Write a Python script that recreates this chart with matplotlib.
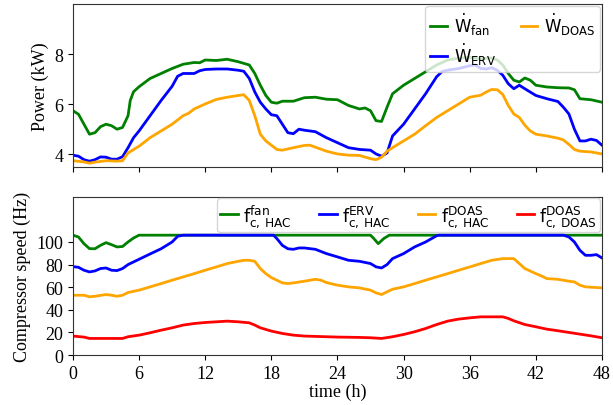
import matplotlib.pyplot as plt
import numpy as np

# ---- top panel: power (kW) ----
t_fan = [0, 0.5, 1, 1.5, 2, 2.5, 3, 3.5, 4, 4.5, 5, 5.2, 5.5, 6, 7, 8, 9, 10, 11, 11.5,
         12, 13, 14, 15, 16, 16.5, 17, 17.5, 18, 18.5, 19, 20, 21, 22, 23, 24, 25, 26,
         26.5, 27, 27.5, 28, 28.5, 29, 30, 31, 32, 33, 34, 35, 36, 37, 37.5, 38, 38.5,
         39, 39.5, 40, 40.5, 41, 41.5, 42, 43, 44, 45, 45.5, 46, 47, 48]
w_fan = [5.74, 5.6, 5.2, 4.8, 4.86, 5.1, 5.2, 5.14, 5.0, 5.07, 5.54, 6.15, 6.5, 6.7, 7.03,
         7.23, 7.43, 7.6, 7.67, 7.66, 7.77, 7.75, 7.8, 7.7, 7.57, 7.23, 6.76, 6.35, 6.08,
         6.04, 6.12, 6.12, 6.26, 6.28, 6.2, 6.18, 5.95, 5.81, 5.85, 5.74, 5.34, 5.31, 5.88,
         6.42, 6.76, 7.03, 7.3, 7.57, 7.77, 7.84, 7.88, 7.8, 7.84, 7.85, 7.77, 7.57, 7.23,
         6.96, 6.89, 7.05, 6.96, 6.76, 6.69, 6.66, 6.65, 6.58, 6.22, 6.18, 6.08]

t_erv = [0, 0.5, 1, 1.5, 2, 2.5, 3, 3.5, 4, 4.5, 5, 5.5, 6, 7, 8, 9, 9.5, 10, 11, 11.5,
         12, 13, 14, 15, 15.5, 16, 16.5, 17, 17.5, 18, 18.5, 19, 19.5, 20, 20.5, 21, 22,
         23, 24, 25, 26, 27, 27.5, 28, 28.5, 29, 30, 31, 32, 33, 33.5, 34, 35, 36, 36.5,
         37, 37.5, 38, 38.5, 39, 39.5, 40, 40.5, 41, 42, 43, 44, 44.5, 45, 45.5, 46, 46.5,
         47, 47.5, 48]
w_erv = [3.96, 3.92, 3.78, 3.72, 3.78, 3.89, 3.88, 3.8, 3.8, 3.9, 4.26, 4.66, 4.93, 5.54,
         6.15, 6.72, 7.12, 7.23, 7.23, 7.34, 7.39, 7.41, 7.41, 7.36, 7.32, 7.03, 6.49, 6.08,
         5.81, 5.58, 5.54, 5.2, 4.86, 4.82, 5.0, 4.96, 4.9, 4.66, 4.46, 4.26, 4.19, 4.16,
         4.01, 3.92, 4.05, 4.73, 5.2, 5.81, 6.42, 7.1, 7.31, 7.36, 7.43, 7.54, 7.57, 7.43,
         7.41, 7.46, 7.36, 7.16, 6.82, 6.62, 6.76, 6.62, 6.35, 6.22, 6.11, 5.88, 5.61, 5.0,
         4.53, 4.53, 4.6, 4.55, 4.36]

t_doas = [0, 1, 1.5, 2, 3, 4, 4.5, 5, 6, 7, 8, 9, 10, 10.5, 11, 12, 13, 14, 15, 15.5, 16,
          16.5, 17, 17.5, 18, 18.5, 19, 20, 21, 21.5, 22, 23, 24, 25, 26, 27, 27.5, 28,
          28.5, 29, 30, 31, 32, 33, 34, 35, 36, 37, 37.5, 38, 38.5, 39, 39.5, 40, 40.5, 41,
          41.5, 42, 43, 44, 44.5, 45, 45.5, 46, 47, 48]
w_doas = [3.74, 3.69, 3.64, 3.68, 3.74, 3.72, 3.74, 4.05, 4.32, 4.66, 4.93, 5.2, 5.54, 5.64,
          5.81, 6.01, 6.19, 6.28, 6.35, 6.38, 6.15, 5.54, 4.8, 4.53, 4.36, 4.19, 4.16, 4.26,
          4.35, 4.36, 4.28, 4.12, 4.01, 3.96, 3.95, 3.82, 3.78, 3.88, 4.12, 4.26, 4.53, 4.8,
          5.14, 5.47, 5.74, 6.01, 6.28, 6.36, 6.49, 6.59, 6.58, 6.39, 5.95, 5.61, 5.47, 5.16,
          4.93, 4.8, 4.73, 4.64, 4.57, 4.39, 4.19, 4.12, 4.09, 4.01]

# ---- bottom panel: compressor speed (Hz) ----
t_f_fan = [0, 0.5, 1, 1.5, 2, 2.5, 3, 3.5, 4, 4.5, 5, 5.5, 6, 27, 27.3, 27.7, 28.2, 28.7, 48]
f_fan = [106, 104.4, 98.5, 94.1, 94, 97, 99.4, 97.6, 95.6, 96, 100, 103.5, 106, 106, 103,
         98.5, 103, 106, 106]

t_f_erv = [0, 0.5, 1, 1.5, 2, 2.5, 3, 3.5, 4, 4.5, 5, 6, 7, 8, 9, 9.5, 10, 18.2, 18.5, 19,
           19.5, 20, 20.5, 21, 22, 23, 24, 25, 26, 27, 27.5, 28, 28.5, 29, 30, 31, 32, 33,
           33.2, 44.5, 45, 45.5, 46, 46.5, 47, 47.5, 48]
f_erv = [78.2, 77.6, 75, 73.5, 74.4, 76.5, 77, 75, 74.7, 76.5, 80, 84.7, 89.4, 94, 100, 105,
         106, 106, 103, 97, 94, 93.5, 94.7, 94.7, 93.5, 89.7, 86.8, 83.8, 82.9, 80.9, 78,
         77, 80, 85.3, 89.7, 95.6, 100, 105.5, 106, 106, 104.4, 100, 92.6, 88.2, 88.2, 88.8,
         85.9]

t_f_doas = [0, 1, 1.5, 2, 3, 3.5, 4, 4.5, 5, 6, 7, 8, 9, 10, 11, 12, 13, 14, 15, 15.5, 16,
            16.5, 17, 17.5, 18, 18.5, 19, 19.5, 20, 21, 22, 22.5, 23, 24, 25, 26, 27, 27.5,
            28, 28.5, 29, 30, 31, 32, 33, 34, 35, 36, 37, 38, 39, 40, 40.5, 41, 42, 42.5,
            43, 44, 45, 45.5, 46, 46.5, 47, 48]
f_doas = [52.9, 52.9, 51.5, 52, 53.5, 52.9, 52, 52.9, 55.3, 57.4, 60.3, 63.2, 66.2, 69.1,
          72, 75, 77.9, 80.9, 82.9, 83.8, 83.8, 82.9, 76.5, 72, 68.5, 66.2, 63.8, 63.2, 63.8,
          65.3, 67, 66.2, 64.1, 61.8, 60.3, 59.4, 57.4, 55, 53.5, 55.9, 58.2, 60.3, 63.2,
          66.2, 69.1, 72, 75, 77.9, 80.9, 83.8, 85.3, 85.3, 80.9, 76.5, 72, 70, 67.6, 67,
          65.3, 64.7, 61.8, 60.3, 60, 59.4]

t_f_dd = [0, 1, 1.5, 4.5, 5, 6, 7, 8, 9, 10, 11, 12, 13, 14, 15, 16, 16.5, 17, 18, 19, 20,
          21, 22, 24, 26, 27, 28, 29, 30, 31, 32, 33, 34, 35, 36, 37, 38, 39, 39.5, 40, 41,
          42, 43, 44, 45, 46, 47, 48]
f_dd = [16.8, 15.9, 14.7, 14.7, 16.2, 17.6, 19.7, 22, 24.1, 26.5, 27.9, 28.8, 29.4, 30,
        29.4, 28.5, 26.5, 24.1, 21.2, 19.1, 17.6, 16.8, 16.5, 15.9, 15.6, 15.3, 14.7, 16.2,
        18.2, 20.6, 23.5, 27, 30, 31.8, 32.9, 33.8, 33.8, 33.8, 32.4, 30.3, 27, 25, 22.9,
        21.5, 20, 18.5, 17, 15.3]

xticks = [0, 6, 12, 18, 24, 30, 36, 42, 48]

plt.rcParams['font.family'] = ['Liberation Serif', 'DejaVu Serif']
plt.rcParams['mathtext.fontset'] = 'dejavusans'

fig = plt.figure(figsize=(6.13, 4.06), dpi=100)
ax1 = fig.add_axes([0.119, 0.587, 0.863, 0.400])
ax2 = fig.add_axes([0.119, 0.123, 0.863, 0.390])

lw = 2
ax1.plot(t_fan, w_fan, color='green', lw=lw, label=r'$\dot{\mathrm{W}}_{\mathrm{fan}}$')
ax1.plot(t_erv, w_erv, color='blue', lw=lw, label=r'$\dot{\mathrm{W}}_{\mathrm{ERV}}$')
ax1.plot(t_doas, w_doas, color='orange', lw=lw, label=r'$\dot{\mathrm{W}}_{\mathrm{DOAS}}$')
ax1.set_xlim(0, 48)
ax1.set_ylim(3.5, 10)
ax1.set_yticks([4, 6, 8])
ax1.set_xticks(xticks)
ax1.tick_params(labelbottom=False, labelsize=13)
ax1.set_ylabel('Power (kW)', fontsize=13)
leg1 = ax1.legend(loc='upper right', ncol=2, prop={'family': 'DejaVu Sans', 'size': 12},
                  handlelength=1.0, handletextpad=0.4, columnspacing=1.5, borderpad=0.3,
                  labelspacing=0.2, borderaxespad=0.1)

ax2.plot(t_f_fan, f_fan, color='green', lw=lw, label=r'$\mathrm{f}_{\mathrm{c,\,HAC}}^{\mathrm{fan}}$')
ax2.plot(t_f_erv, f_erv, color='blue', lw=lw, label=r'$\mathrm{f}_{\mathrm{c,\,HAC}}^{\mathrm{ERV}}$')
ax2.plot(t_f_doas, f_doas, color='orange', lw=lw, label=r'$\mathrm{f}_{\mathrm{c,\,HAC}}^{\mathrm{DOAS}}$')
ax2.plot(t_f_dd, f_dd, color='red', lw=lw, label=r'$\mathrm{f}_{\mathrm{c,\,DOAS}}^{\mathrm{DOAS}}$')
ax2.set_xlim(0, 48)
ax2.set_ylim(0, 140)
ax2.set_yticks([0, 20, 40, 60, 80, 100])
ax2.set_xticks(xticks)
ax2.tick_params(labelsize=13)
ax2.set_ylabel('Compressor speed (Hz)', fontsize=13)
ax2.set_xlabel('time (h)', fontsize=13, labelpad=1)
leg2 = ax2.legend(loc='upper right', ncol=4, prop={'family': 'DejaVu Sans', 'size': 12.5},
                  handlelength=1.0, handletextpad=0.3, columnspacing=1.6, borderpad=0.2,
                  labelspacing=0.2, borderaxespad=0.1)

for ax in (ax1, ax2):
    for s in ax.spines.values():
        s.set_color('#333333')

fig.savefig('out.png', dpi=100)
